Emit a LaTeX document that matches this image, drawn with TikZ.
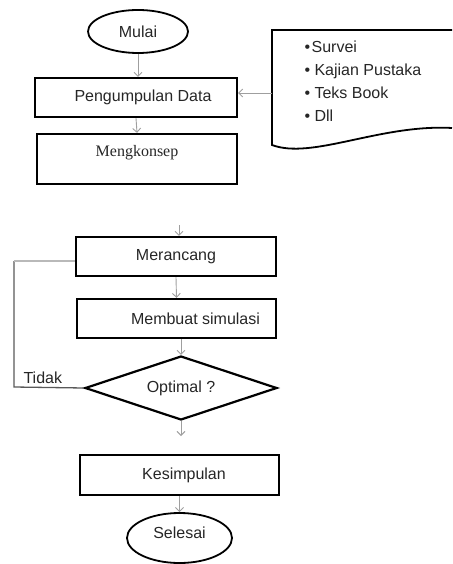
\documentclass[tikz,border=0pt]{standalone}
\usepackage{fontspec}
\setmainfont{Liberation Sans}
\newfontfamily\serifrm{Liberation Serif}
\usetikzlibrary{shapes.geometric,arrows.meta}

\begin{document}
\begin{tikzpicture}[x=1pt,y=-1pt,
ovalnode/.style={ellipse, draw=black, line width=1.8pt, inner sep=0pt, text=black!85},
boxnode/.style={rectangle, draw=black, line width=2.2pt, inner sep=0pt, minimum height=39pt, text=black!85},
choicenode/.style={diamond, draw=black, line width=2.2pt, inner sep=0pt, aspect=3, minimum width=192pt, minimum height=64pt, text=black!85},
flowline/.style={draw=gray!75, line width=0.9pt, -{Straight Barb[length=4pt,width=8pt]}},
loopline/.style={draw=black!65, line width=1.3pt},
font=\fontsize{16}{19}\selectfont,
]
\useasboundingbox (0,0) rectangle (452,564);

\node[ovalnode, minimum width=100pt, minimum height=43pt] (mulai) at (138,31.5) {Mulai};
\node[boxnode, minimum width=202pt] (data) at (136,97.5) {\hspace*{14pt}Pengumpulan Data};
\node[boxnode, minimum width=200pt, minimum height=50pt, text depth=16pt, font=\serifrm\fontsize{16}{19}\selectfont] (konsep) at (137,159) {Mengkonsep};
\node[boxnode, minimum width=200pt] (rancang) at (176,256.5) {Merancang};
\node[boxnode, minimum width=199pt] (simulasi) at (176.5,318.5) {\hspace*{38pt}Membuat simulasi};
\node[choicenode] (optimal) at (181,388) {Optimal ?};
\node[boxnode, minimum width=199pt, minimum height=40pt] (kesimpulan) at (179.5,475) {\hspace*{9pt}Kesimpulan};
\node[ovalnode, minimum width=105pt, minimum height=50pt, text depth=10pt] (selesai) at (179.5,538) {Selesai};

% sumber data
\draw[line width=1.8pt] (452,30) -- (272,30) -- (272,145) .. controls (312,160) and (380,124) .. (452,128);
\node[anchor=base west, align=left, text=black!85, font=\fontsize{16}{23.3}\selectfont] (sumber) at (301,122)
  {\textbullet\kern1.5pt Survei\\ \textbullet{} Kajian Pustaka\\ \textbullet{} Teks Book\\ \textbullet{} Dll};
\coordinate (docin) at (272,93);

\coordinate (masuk) at (179,225);
\coordinate (keluar) at (181,436);
\coordinate (sudut) at (14,387);
\coordinate (balik) at (14,261);

\draw[flowline] (mulai.south) -- (mulai.south |- data.north);
\draw[flowline] (docin) -- (docin -| data.east);
\draw[flowline] (data.south) -- (konsep.north);
\draw[flowline] (masuk) -- (masuk |- rancang.north);
\draw[flowline] (rancang.south) -- (simulasi.north);
\draw[flowline] (optimal.north |- simulasi.south) -- (optimal.north);
\draw[flowline] (optimal.south) -- (keluar);
\draw[flowline] (kesimpulan.south) -- (selesai.north);

\draw[loopline] (optimal.west) -- (sudut) -- (balik);
\draw[loopline, draw=gray!55] (balik) -- (balik -| rancang.west);
\node[anchor=base west, text=black!85] (tidak) at (20,383.5) {Tidak};
\end{tikzpicture}
\end{document}
